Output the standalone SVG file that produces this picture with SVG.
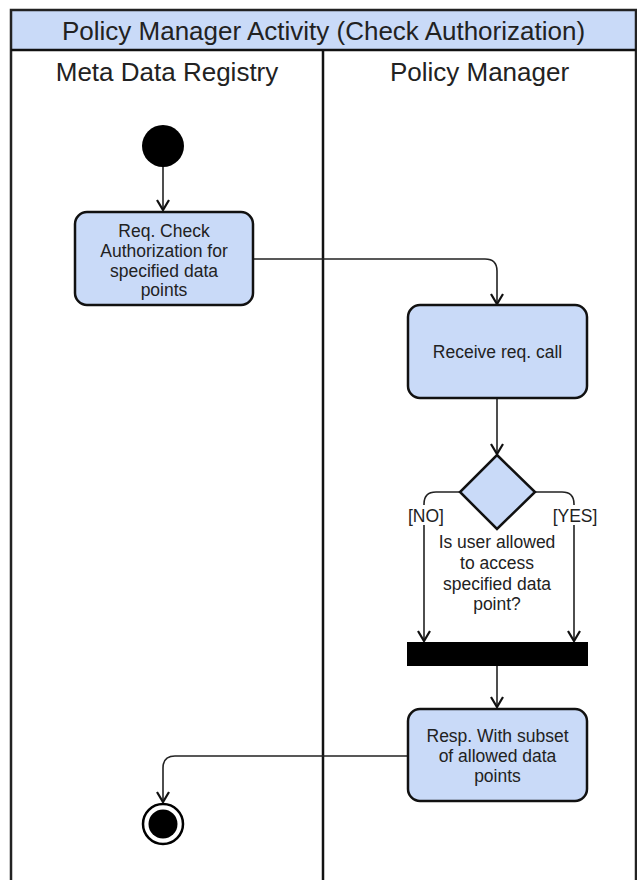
<svg xmlns="http://www.w3.org/2000/svg" width="637" height="880" viewBox="0 0 637 880">
<defs>
<style>
.frame{fill:none;stroke:#222;stroke-width:2.5}
.act{fill:#c9daf8;stroke:#111;stroke-width:2.5}
.t{font-family:"Liberation Sans",Arial,sans-serif;fill:#222;text-anchor:middle}
.h{font-size:26px}
.s{font-size:17.5px}
.c{fill:none;stroke:#222;stroke-width:1.6}
</style>
<marker id="ar" markerWidth="14" markerHeight="14" refX="11" refY="7" orient="auto" markerUnits="userSpaceOnUse">
<path d="M1,1 L11,7 L1,13" fill="none" stroke="#111" stroke-width="2.2"/>
</marker>
</defs>
<rect width="637" height="880" fill="#fff"/>
<g id="frame">
<rect x="11" y="10" width="625" height="40" fill="#c9daf8"/>
<rect x="11" y="10" width="625" height="880" class="frame"/>
<line x1="11" y1="50" x2="636" y2="50" stroke="#111" stroke-width="2.5"/>
<line x1="323" y1="50" x2="323" y2="890" stroke="#111" stroke-width="2.5"/>
<text class="t h" x="323.5" y="40">Policy Manager Activity (Check Authorization)</text>
<text class="t h" x="167" y="81">Meta Data Registry</text>
<text class="t h" x="479.5" y="81">Policy Manager</text>
</g>
<g id="connectors">
<path class="c" d="M163,167 L163,210" marker-end="url(#ar)"/>
<path class="c" d="M253,259 L485,259 Q497,259 497,271 L497,304" marker-end="url(#ar)"/>
<path class="c" d="M497,399 L497,454" marker-end="url(#ar)"/>
<path class="c" d="M460,492 L436,492 Q424,492 424,504 L424,641" marker-end="url(#ar)"/>
<path class="c" d="M535,492 L562,492 Q574,492 574,504 L574,641" marker-end="url(#ar)"/>
<path class="c" d="M497,666 L497,707" marker-end="url(#ar)"/>
<path class="c" d="M407,756 L175,756 Q163,756 163,768 L163,802" marker-end="url(#ar)"/>
</g>
<g id="start">
<circle cx="163" cy="146" r="21" fill="#000"/>
</g>
<g id="req">
<rect class="act" x="75" y="212" width="178" height="93" rx="12"/>
<text class="t s" x="164" y="237">Req. Check</text>
<text class="t s" x="164" y="257">Authorization for</text>
<text class="t s" x="164" y="277">specified data</text>
<text class="t s" x="164" y="296">points</text>
</g>
<g id="receive">
<rect class="act" x="408" y="305" width="179" height="93" rx="12"/>
<text class="t s" x="497.5" y="358">Receive req. call</text>
</g>
<g id="decision">
<polygon class="act" points="497,455 535,492 497,529 460,492"/>
<rect x="406" y="505" width="38" height="20" fill="#fff"/>
<text class="t s" x="426" y="522">[NO]</text>
<rect x="553" y="505" width="44" height="20" fill="#fff"/>
<text class="t s" x="575" y="522">[YES]</text>
<text class="t s" x="497" y="548">Is user allowed</text>
<text class="t s" x="497" y="569">to access</text>
<text class="t s" x="497" y="590">specified data</text>
<text class="t s" x="497" y="610">point?</text>
</g>
<g id="join">
<rect x="407" y="642" width="181" height="24" fill="#000"/>
</g>
<g id="resp">
<rect class="act" x="408" y="709" width="179" height="92" rx="12"/>
<text class="t s" x="497.5" y="742">Resp. With subset</text>
<text class="t s" x="497.5" y="762">of allowed data</text>
<text class="t s" x="497.5" y="782">points</text>
</g>
<g id="end">
<circle cx="163" cy="824" r="20" fill="#fff" stroke="#000" stroke-width="2.5"/>
<circle cx="163" cy="824" r="14.5" fill="#000"/>
</g>
</svg>
